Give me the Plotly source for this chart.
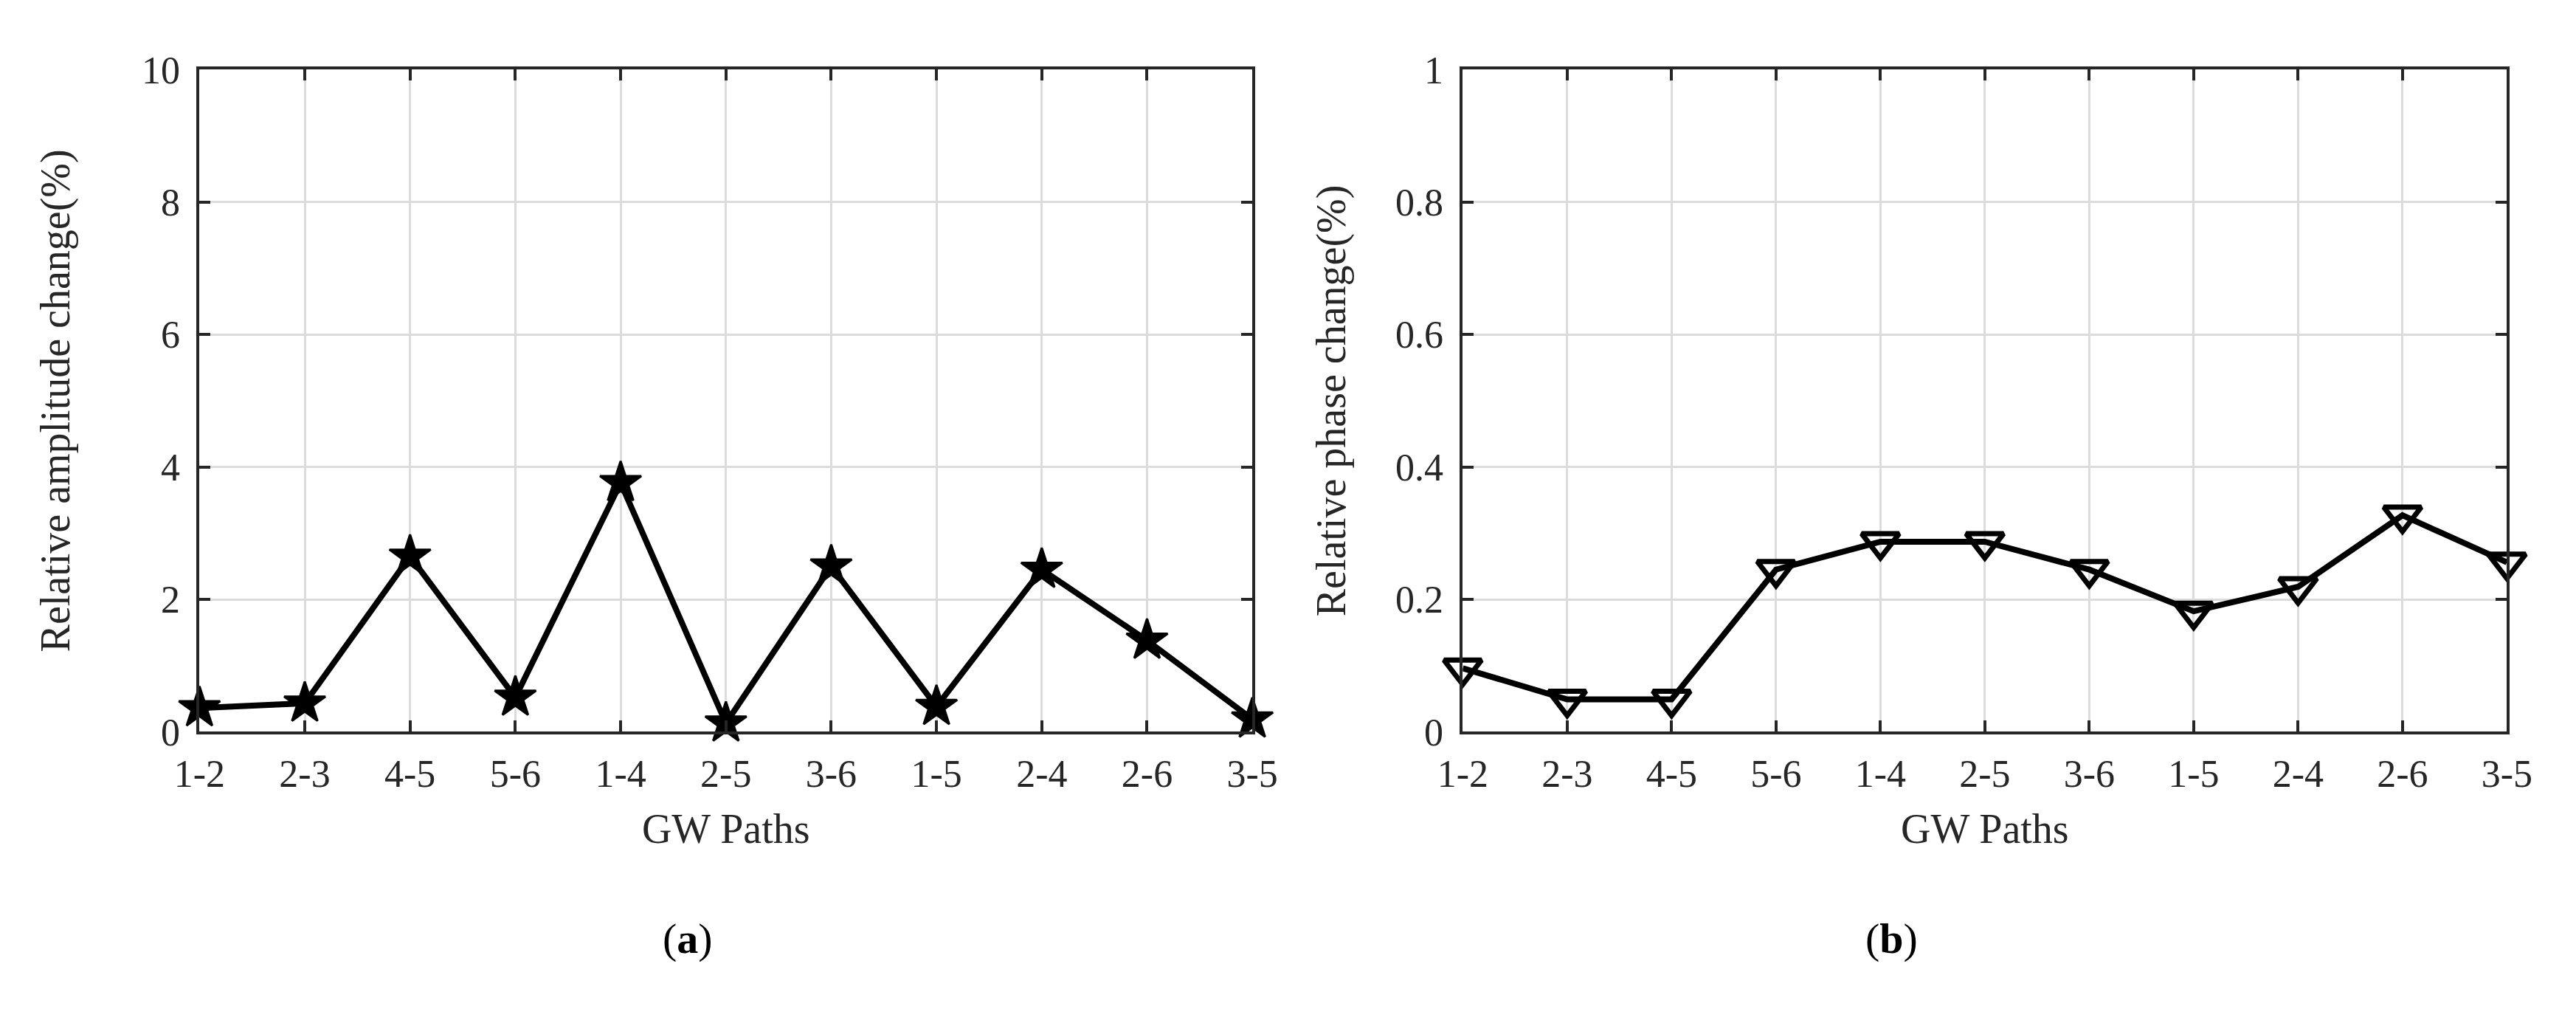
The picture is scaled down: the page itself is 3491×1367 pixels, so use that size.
# GW path amplitude / phase change, two panels side by side

import plotly.graph_objects as go

paths = ["1-2", "2-3", "4-5", "5-6", "1-4", "2-5", "3-6", "1-5", "2-4", "2-6", "3-5"]
amplitude_change = [0.36, 0.43, 2.65, 0.52, 3.76, 0.13, 2.50, 0.38, 2.45, 1.38, 0.19]
phase_change = [0.096, 0.049, 0.049, 0.245, 0.287, 0.287, 0.245, 0.182, 0.219, 0.327, 0.256]

amp_ticks = [0, 2, 4, 6, 8, 10]
phase_ticks = [0, 0.2, 0.4, 0.6, 0.8, 1]

panel_labels = ["(<b>a</b>)", "(<b>b</b>)"]

W, H = 3491, 1367
axis_col = "#262626"
grid_col = "#dcdcdc"
font = "Liberation Serif"

trace_a = go.Scatter(x=paths, y=amplitude_change, mode="lines+markers",
                     line=dict(color="black", width=8),
                     marker=dict(symbol="star", size=42, color="black",
                                 line=dict(color="black", width=3)),
                     cliponaxis=False, showlegend=False,
                     xaxis="x", yaxis="y")

trace_b = go.Scatter(x=paths, y=phase_change, mode="lines+markers",
                     line=dict(color="black", width=8),
                     marker=dict(symbol="triangle-down-open", size=44, color="black",
                                 line=dict(color="black", width=7)),
                     cliponaxis=False, showlegend=False,
                     xaxis="x2", yaxis="y2")

common_x = dict(type="category", range=[0, 10], showgrid=True, gridcolor=grid_col,
                gridwidth=3, showline=True, linecolor=axis_col, linewidth=4,
                mirror="ticks", ticks="inside", ticklen=15, tickwidth=4,
                tickcolor=axis_col, tickfont=dict(family=font, size=52, color=axis_col),
                ticklabelstandoff=8, zeroline=False,
                title=dict(text="GW Paths", font=dict(family=font, size=56, color=axis_col),
                           standoff=28))

common_y = dict(showgrid=True, gridcolor=grid_col, gridwidth=3,
                showline=True, linecolor=axis_col, linewidth=4, mirror="ticks",
                ticks="inside", ticklen=15, tickwidth=4, tickcolor=axis_col,
                tickfont=dict(family=font, size=52, color=axis_col),
                ticklabelstandoff=12, zeroline=False)

y_dom = [1 - 997 / H, 1 - 61 / H]

layout = go.Layout(
    width=W, height=H,
    margin=dict(l=0, r=0, t=0, b=0),
    paper_bgcolor="white", plot_bgcolor="white",
    xaxis=dict(common_x, domain=[232 / W, 1688 / W], anchor="y"),
    yaxis=dict(common_y, domain=y_dom, anchor="x", range=[0, 10],
               tickvals=amp_ticks,
               title=dict(text="Relative amplitude change(%)",
                          font=dict(family=font, size=56, color=axis_col), standoff=80)),
    xaxis2=dict(common_x, domain=[1979 / W, 3423 / W], anchor="y2"),
    yaxis2=dict(common_y, domain=y_dom, anchor="x2", range=[0, 1],
                tickvals=phase_ticks,
                title=dict(text="Relative phase change(%)",
                           font=dict(family=font, size=56, color=axis_col), standoff=50)),
    annotations=[
        dict(text=panel_labels[0], x=907 / W, y=1 - 1289 / H, xref="paper", yref="paper",
             xanchor="center", yanchor="middle", showarrow=False,
             font=dict(family=font, size=58, color="black")),
        dict(text=panel_labels[1], x=2572 / W, y=1 - 1289 / H, xref="paper", yref="paper",
             xanchor="center", yanchor="middle", showarrow=False,
             font=dict(family=font, size=58, color="black")),
    ],
)

fig = go.Figure(data=[trace_a, trace_b], layout=layout)
fig.write_html("out.html")
